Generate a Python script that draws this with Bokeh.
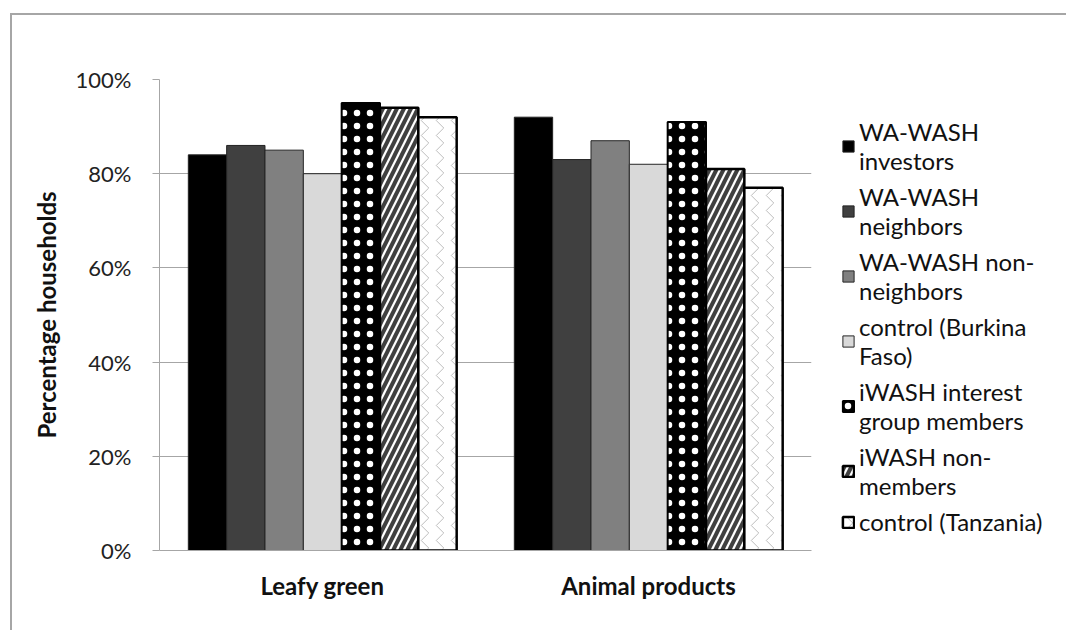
from bokeh.plotting import figure
from bokeh.models import (Legend, LegendItem, ColumnDataSource, PrintfTickFormatter,
                          FixedTicker, Range1d)
from bokeh.transform import dodge
from bokeh.embed import file_html
from bokeh.resources import INLINE

categories = ["Leafy green", "Animal products"]
series_labels = [
    "WA-WASH\ninvestors",
    "WA-WASH\nneighbors",
    "WA-WASH non-\nneighbors",
    "control (Burkina\nFaso)",
    "iWASH interest\ngroup members",
    "iWASH non-\nmembers",
    "control (Tanzania)",
]
wa_investors = [84, 92]
wa_neighbors = [86, 83]
wa_non_neighbors = [85, 87]
control_burkina = [80, 82]
iwash_members = [95, 91]
iwash_non_members = [94, 81]
control_tanzania = [92, 77]
y_ticks = [0, 20, 40, 60, 80, 100]

keys = ["s0", "s1", "s2", "s3", "s4", "s5", "s6"]
source = ColumnDataSource(dict(
    cat=categories,
    s0=wa_investors, s1=wa_neighbors, s2=wa_non_neighbors, s3=control_burkina,
    s4=iwash_members, s5=iwash_non_members, s6=control_tanzania,
))

FONT = "Lato"
p = figure(x_range=categories, y_range=Range1d(0, 100),
           frame_width=652, frame_height=471,
           min_border_left=147, min_border_right=248, min_border_top=64, min_border_bottom=80,
           output_backend="svg", toolbar_location=None)
p.margin = (13, 0, 0, 10)
p.styles = {"border-left": "2px solid #a6a6a6", "border-top": "2px solid #a6a6a6",
            "outline": "none", "box-shadow": "none"}
p.outline_line_color = None
p.background_fill_color = "white"

styles = [
    dict(fill_color="black", line_color="#222222", line_width=1),
    dict(fill_color="#404040", line_color="#222222", line_width=1),
    dict(fill_color="#808080", line_color="#262626", line_width=1),
    dict(fill_color="#d9d9d9", line_color="#262626", line_width=1),
    dict(fill_color="black", line_color="black", line_width=2, hatch_pattern="dot",
         hatch_color="white", hatch_scale=13, hatch_weight=0.4),
    dict(fill_color="white", line_color="black", line_width=2.5, hatch_pattern="/",
         hatch_color="#404040", hatch_scale=14, hatch_weight=4),
    dict(fill_color="white", line_color="black", line_width=2.5, hatch_pattern=">",
         hatch_color="#bdbdbd", hatch_scale=15, hatch_weight=1),
]

bw = 0.1176
items = []
for i, k in enumerate(keys):
    r = p.vbar(x=dodge("cat", (i - 3) * bw, range=p.x_range), top=k, width=bw,
               source=source, **styles[i])
    items.append(LegendItem(label=series_labels[i], renderers=[r]))

legend = Legend(items=items, location=(30, 14), padding=0, margin=0,
                border_line_color=None, background_fill_alpha=0,
                glyph_width=14, glyph_height=14, label_standoff=4,
                label_text_font=FONT, label_text_font_size="24px",
                label_text_color="#111111", label_text_line_height=1.7,
                spacing=7)
p.add_layout(legend, "right")

p.xgrid.grid_line_color = None
p.ygrid.grid_line_color = "#a6a6a6"
p.ygrid.grid_line_width = 1
p.yaxis.ticker = FixedTicker(ticks=y_ticks)
p.yaxis.formatter = PrintfTickFormatter(format="%d%%")
p.yaxis.axis_line_color = "#a6a6a6"
p.yaxis.major_tick_line_color = "#a6a6a6"
p.yaxis.major_tick_out = 7
p.yaxis.major_tick_in = 0
p.yaxis.minor_tick_line_color = None
p.yaxis.major_label_standoff = 21
p.yaxis.major_label_text_font = FONT
p.yaxis.major_label_text_font_size = "22px"
p.yaxis.major_label_text_color = "#222222"
p.yaxis.axis_label = "Percentage households"
p.yaxis.axis_label_text_font = FONT
p.yaxis.axis_label_text_font_size = "24px"
p.yaxis.axis_label_text_font_style = "bold"
p.yaxis.axis_label_text_color = "#111111"
p.yaxis.axis_label_standoff = 12

p.xaxis.axis_line_color = "#a6a6a6"
p.xaxis.major_tick_line_color = None
p.xaxis.minor_tick_line_color = None
p.xaxis.major_label_standoff = 14
p.xaxis.major_label_text_font = FONT
p.xaxis.major_label_text_font_size = "24px"
p.xaxis.major_label_text_font_style = "bold"
p.xaxis.major_label_text_color = "#111111"
p.x_range.range_padding = 0

open("out.html", "w").write(file_html(p, INLINE))
